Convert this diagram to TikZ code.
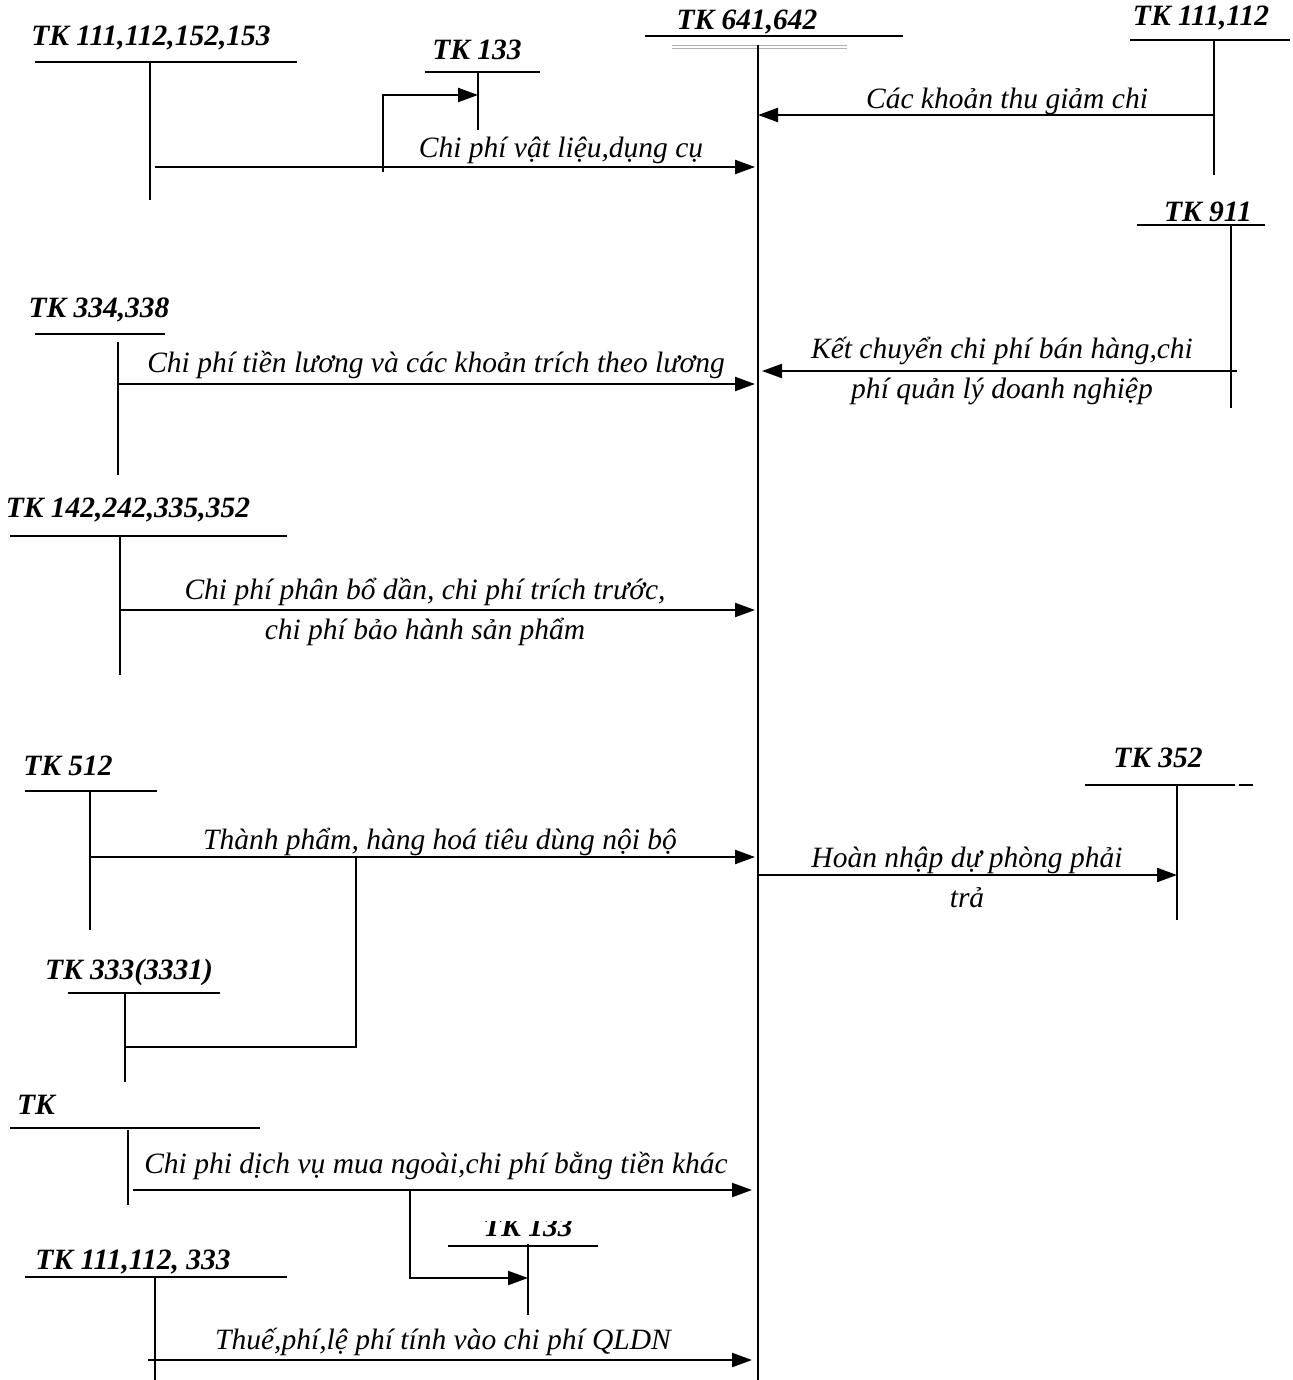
\documentclass[tikz,border=0pt]{standalone}
\usepackage{fontspec}
\setmainfont{Liberation Serif}
\usetikzlibrary{arrows.meta}
\begin{document}
\begin{tikzpicture}[x=1pt,y=-1pt,
  acct/.style={font=\fontsize{29.5}{32}\selectfont\bfseries\itshape, inner sep=0pt},
  lbl/.style={font=\fontsize{29.5}{40}\selectfont\itshape, inner sep=0pt, align=center},
  tline/.style={line width=1.8pt},
  flow/.style={line width=2.2pt, -{Triangle[length=20pt,width=14pt]}},
]
\useasboundingbox (0,0) rectangle (1292,1380);

% ---- central account TK 641,642 ----
\node[acct] (t641) at (747,22) {TK 641,642};
\coordinate (h641a) at (645,36); \coordinate (h641b) at (903,36);
\draw[tline] (h641a) -- (h641b);
\draw[gray!60, line width=0.8pt] (672,45) -- (847,45) (672,48) -- (847,48);
\coordinate (m0) at (758,45); \coordinate (m1) at (758,1380);
\draw[tline] (m0) -- (m1);
% points on the central line where flows arrive / leave
\coordinate (m115) at (758,115);
\coordinate (m167) at (755,167);
\coordinate (m371) at (762,371);
\coordinate (m384) at (755,384);
\coordinate (m610) at (755,610);
\coordinate (m857) at (755,857);
\coordinate (m875) at (758,875);
\coordinate (m1190) at (752,1190);
\coordinate (m1360) at (752,1360);

% ---- TK 111,112,152,153 ----
\node[acct] (t111a) at (151,38) {TK 111,112,152,153};
\coordinate (h111a1) at (35,62); \coordinate (h111a2) at (297,62);
\draw[tline] (h111a1) -- (h111a2);
\coordinate (v111a1) at (150,62); \coordinate (v111a2) at (150,200);
\draw[tline] (v111a1) -- (v111a2);
\coordinate (s111a) at (155,167);
\draw[flow] (s111a) -- (m167);
\node[lbl] (l1) at (561,150) {Chi phí vật liệu,dụng cụ};

% ---- TK 133 (upper) ----
\node[acct] (t133a) at (477,50) {TK 133};
\coordinate (h133a1) at (425,72); \coordinate (h133a2) at (540,72);
\draw[tline] (h133a1) -- (h133a2);
\coordinate (v133a1) at (478,72); \coordinate (v133a2) at (478,130);
\draw[tline] (v133a1) -- (v133a2);
\coordinate (b1a) at (383,172); \coordinate (b1b) at (383,95); \coordinate (b1c) at (478,95);
\draw[flow] (b1a) -- (b1b) -- (b1c);

% ---- TK 111,112 (right) ----
\node[acct] (t111b) at (1201,18) {TK 111,112};
\coordinate (h111b1) at (1130,40); \coordinate (h111b2) at (1290,40);
\draw[tline] (h111b1) -- (h111b2);
\coordinate (v111b1) at (1214,40); \coordinate (v111b2) at (1214,175);
\draw[tline] (v111b1) -- (v111b2);
\coordinate (s111b) at (1214,115);
\draw[flow] (s111b) -- (m115);
\node[lbl] (l2) at (1007,101) {Các khoản thu giảm chi};

% ---- TK 911 ----
\node[acct] (t911) at (1208,212) {TK 911};
\coordinate (h911a) at (1137,225); \coordinate (h911b) at (1265,225);
\draw[tline] (h911a) -- (h911b);
\coordinate (v911a) at (1231,225); \coordinate (v911b) at (1231,408);
\draw[tline] (v911a) -- (v911b);
\coordinate (s911) at (1237,371);
\draw[flow] (s911) -- (m371);
\node[lbl] (l3) at (1002,371) {Kết chuyển chi phí bán hàng,chi\\phí quản lý doanh nghiệp};

% ---- TK 334,338 ----
\node[acct] (t334) at (99,310) {TK 334,338};
\coordinate (h334a) at (35,334); \coordinate (h334b) at (165,334);
\draw[tline] (h334a) -- (h334b);
\coordinate (v334a) at (118,342); \coordinate (v334b) at (118,475);
\draw[tline] (v334a) -- (v334b);
\coordinate (s334) at (118,384);
\draw[flow] (s334) -- (m384);
\node[lbl] (l4) at (436,365) {Chi phí tiền lương và các khoản trích theo lương};

% ---- TK 142,242,335,352 ----
\node[acct] (t142) at (128,510) {TK 142,242,335,352};
\coordinate (h142a) at (10,536); \coordinate (h142b) at (287,536);
\draw[tline] (h142a) -- (h142b);
\coordinate (v142a) at (120,536); \coordinate (v142b) at (120,675);
\draw[tline] (v142a) -- (v142b);
\coordinate (s142) at (120,610);
\draw[flow] (s142) -- (m610);
\node[lbl] (l5) at (425,612) {Chi phí phân bổ dần, chi phí trích trước,\\chi phí bảo hành sản phẩm};

% ---- TK 512 ----
\node[acct] (t512) at (68,766) {TK 512};
\coordinate (h512a) at (25,791); \coordinate (h512b) at (157,791);
\draw[tline] (h512a) -- (h512b);
\coordinate (v512a) at (90,791); \coordinate (v512b) at (90,930);
\draw[tline] (v512a) -- (v512b);
\coordinate (s512) at (90,857);
\draw[flow] (s512) -- (m857);
\node[lbl] (l6) at (440,842) {Thành phẩm, hàng hoá tiêu dùng nội bộ};

% ---- TK 333(3331) ----
\node[acct] (t333) at (129,972) {TK 333(3331)};
\coordinate (h333a) at (68,993); \coordinate (h333b) at (220,993);
\draw[tline] (h333a) -- (h333b);
\coordinate (v333a) at (125,993); \coordinate (v333b) at (125,1082);
\draw[tline] (v333a) -- (v333b);
\coordinate (b2a) at (356,857); \coordinate (b2b) at (356,1047); \coordinate (b2c) at (125,1047);
\draw[tline] (b2a) -- (b2b) -- (b2c);

% ---- TK 352 ----
\node[acct] (t352) at (1158,758) {TK 352};
\coordinate (h352a) at (1085,785); \coordinate (h352b) at (1235,785);
\draw[tline] (h352a) -- (h352b);
\draw[tline] (1239,785) -- (1253,785);
\coordinate (v352a) at (1177,785); \coordinate (v352b) at (1177,920);
\draw[tline] (v352a) -- (v352b);
\coordinate (e352) at (1177,875);
\draw[flow] (m875) -- (e352);
\node[lbl] (l7) at (967,877) {Hoàn nhập dự phòng phải\\trả};

% ---- TK (other) ----
\node[acct] (tk) at (36,1105) {TK};
\coordinate (htka) at (10,1128); \coordinate (htkb) at (260,1128);
\draw[tline] (htka) -- (htkb);
\coordinate (vtka) at (128,1130); \coordinate (vtkb) at (128,1205);
\draw[tline] (vtka) -- (vtkb);
\coordinate (stk) at (133,1190);
\draw[flow] (stk) -- (m1190);
\node[lbl] (l8) at (436,1166) {Chi phi dịch vụ mua ngoài,chi phí bằng tiền khác};

% ---- TK 133 (lower), title partly hidden above ----
\begin{scope}
  \clip (440,1221) rectangle (620,1260);
  \node[acct] (t133b) at (528,1227) {TK 133};
\end{scope}
\coordinate (h133b1) at (448,1246); \coordinate (h133b2) at (598,1246);
\draw[tline] (h133b1) -- (h133b2);
\coordinate (v133b1) at (528,1244); \coordinate (v133b2) at (528,1315);
\draw[tline] (v133b1) -- (v133b2);
\coordinate (b3a) at (410,1190); \coordinate (b3b) at (410,1278); \coordinate (b3c) at (528,1278);
\draw[flow] (b3a) -- (b3b) -- (b3c);

% ---- TK 111,112, 333 ----
\node[acct] (t111c) at (133,1262) {TK 111,112, 333};
\coordinate (h111c1) at (25,1277); \coordinate (h111c2) at (287,1277);
\draw[tline] (h111c1) -- (h111c2);
\coordinate (v111c1) at (155,1277); \coordinate (v111c2) at (155,1380);
\draw[tline] (v111c1) -- (v111c2);
\coordinate (s111c) at (148,1360);
\draw[flow] (s111c) -- (m1360);
\node[lbl] (l9) at (443,1342) {Thuế,phí,lệ phí tính vào chi phí QLDN};
\end{tikzpicture}
\end{document}
